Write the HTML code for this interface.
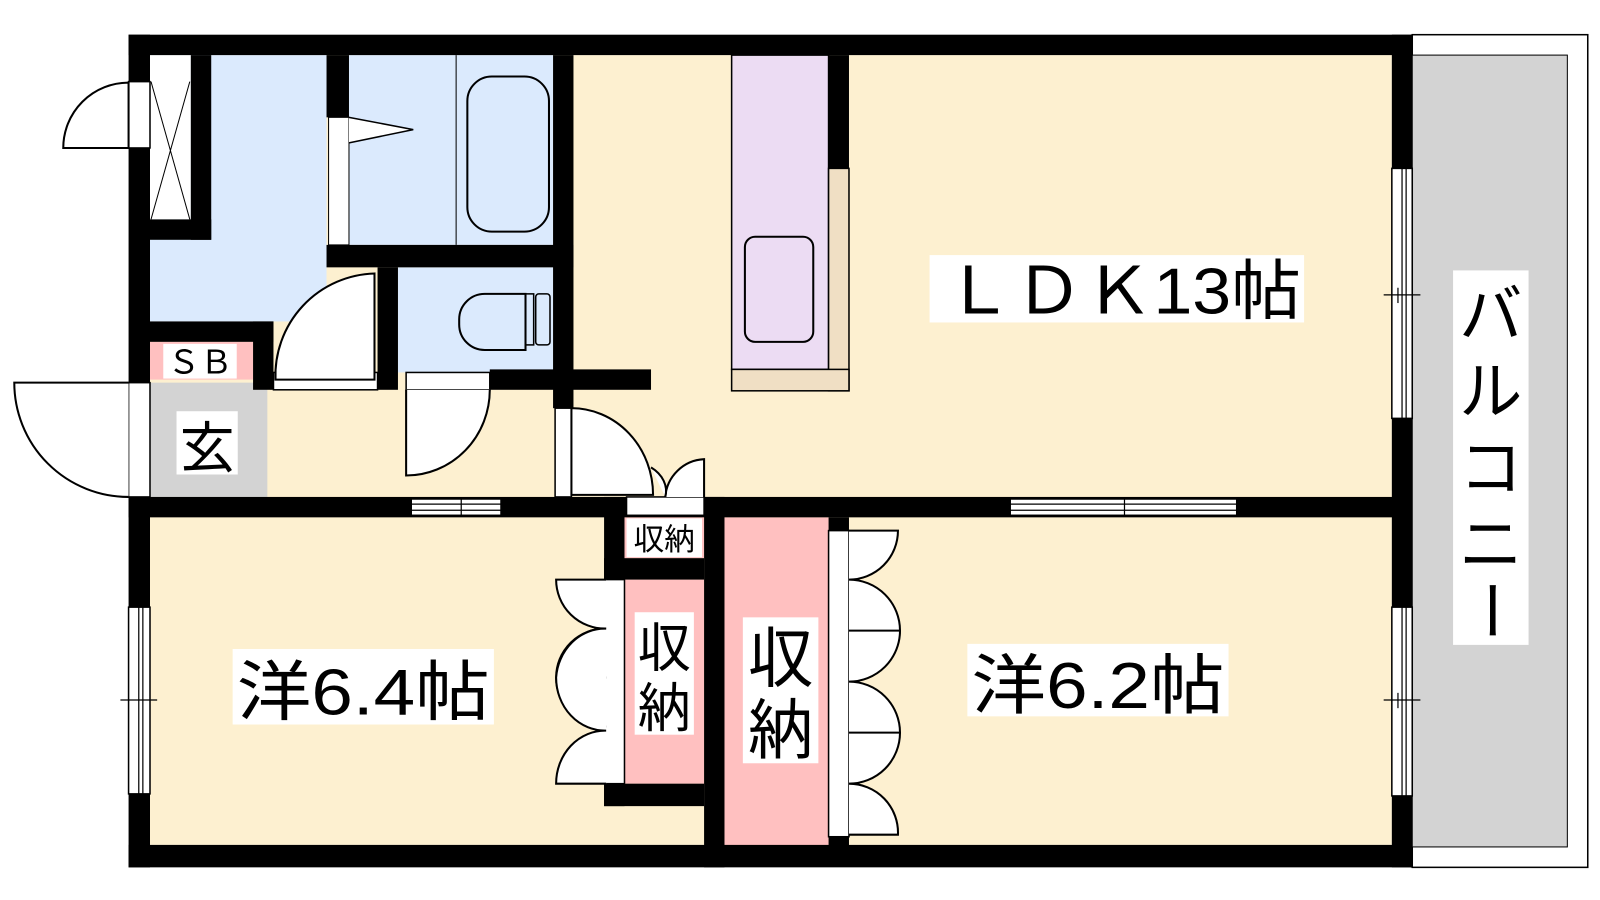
<!DOCTYPE html>
<html><head><meta charset="utf-8"><style>html,body{margin:0;padding:0;background:#fff}svg{display:block}
text{font-family:"Liberation Sans","Noto Sans CJK JP",sans-serif;fill:#000}</style></head><body>
<svg width="1600" height="900" viewBox="0 0 1568 882" xmlns="http://www.w3.org/2000/svg">
<rect x="1384" y="34" width="172" height="816" fill="#fff" stroke="#000" stroke-width="1.5"/>
<rect x="1384" y="54" width="152" height="776" fill="#d3d3d3" stroke="#000" stroke-width="1"/>
<rect x="1424" y="265" width="74" height="367" fill="#fff"/>
<text x="1461" y="330" font-size="62" text-anchor="middle">バ</text>
<text x="1461" y="405" font-size="62" text-anchor="middle">ル</text>
<text x="1461" y="480" font-size="62" text-anchor="middle">コ</text>
<text x="1461" y="555" font-size="62" text-anchor="middle">ニ</text>
<text x="0" y="0" font-size="62" text-anchor="middle" transform="translate(1439,598) rotate(90)">ー</text>
<rect x="147" y="54" width="1217" height="774" fill="#fdf0d0"/>
<rect x="147" y="54" width="173" height="261" fill="#dbeafd"/>
<rect x="342" y="54" width="200" height="186" fill="#dbeafd"/>
<rect x="390" y="262" width="152" height="103" fill="#dbeafd"/>
<rect x="147" y="375" width="115" height="112" fill="#d3d3d3"/>
<rect x="147" y="335" width="101" height="37" fill="#ffc0c0"/>
<rect x="160" y="337" width="72" height="34" fill="#fff"/>
<text x="196" y="366" font-size="32" text-anchor="middle">ＳＢ</text>
<rect x="147" y="54" width="40" height="161" fill="#fff"/>
<path d="M148 80 L186 215 M186 80 L148 215" stroke="#000" stroke-width="1"/>
<line x1="447" y1="54" x2="447" y2="240" stroke="#000" stroke-width="1"/>
<rect x="458" y="75" width="80" height="152" rx="24" fill="none" stroke="#000" stroke-width="2"/>
<rect x="322" y="115" width="20" height="125" fill="#fff" stroke="#000" stroke-width="1"/>
<path d="M342 115 L405 127 L342 140" fill="#fff" stroke="#000" stroke-width="1.5"/>
<path d="M450 313 a25 25 0 0 1 25 -25 h40 v55 h-40 a25 25 0 0 1 -25 -25z" fill="none" stroke="#000" stroke-width="2"/>
<rect x="515" y="288" width="8" height="50" fill="none" stroke="#000" stroke-width="1.5"/>
<rect x="525" y="288" width="14" height="50" rx="3" fill="none" stroke="#000" stroke-width="1.5"/>
<rect x="717" y="54" width="95" height="308" fill="#ecdcf3" stroke="#000" stroke-width="1.5"/>
<rect x="812" y="165" width="20" height="218" fill="#f0dfc4" stroke="#000" stroke-width="1.5"/>
<rect x="717" y="362" width="115" height="21" fill="#f0dfc4" stroke="#000" stroke-width="1.5"/>
<rect x="730" y="232" width="67" height="103" rx="10" fill="none" stroke="#000" stroke-width="2"/>
<rect x="612" y="507" width="78" height="40" fill="#ffc0c0"/>
<rect x="612" y="568" width="78" height="200" fill="#ffc0c0"/>
<rect x="710" y="507" width="102" height="323" fill="#ffc0c0"/>
<g fill="#000">
<rect x="126" y="34" width="1258" height="20"/>
<rect x="126" y="828" width="1258" height="22"/>
<rect x="126" y="34" width="21" height="816"/>
<rect x="1364" y="34" width="20" height="816"/>
<rect x="187" y="54" width="20" height="181"/>
<rect x="147" y="215" width="60" height="20"/>
<rect x="320" y="54" width="22" height="61"/>
<rect x="320" y="240" width="242" height="22"/>
<rect x="542" y="54" width="20" height="346"/>
<rect x="370" y="262" width="20" height="120"/>
<rect x="480" y="362" width="158" height="20"/>
<rect x="147" y="315" width="121" height="20"/>
<rect x="248" y="315" width="20" height="67"/>
<rect x="812" y="54" width="20" height="111"/>
<rect x="126" y="487" width="1258" height="20"/>
<rect x="592" y="487" width="20" height="303"/>
<rect x="592" y="547" width="98" height="21"/>
<rect x="592" y="768" width="98" height="22"/>
<rect x="690" y="487" width="20" height="363"/>
<rect x="812" y="507" width="20" height="323"/>
</g>
<g fill="#fff" stroke="#000" stroke-width="1.5">
<rect x="1364" y="165" width="20" height="245"/>
<rect x="1364" y="595" width="20" height="185"/>
<rect x="126" y="595" width="21" height="183"/>
<rect x="403" y="489" width="88" height="16"/>
<rect x="990" y="489" width="222" height="16"/>
<rect x="126" y="80" width="21" height="65"/>
<rect x="126" y="375" width="21" height="112"/>
<rect x="268" y="365" width="102" height="17"/>
<rect x="398" y="365" width="82" height="17"/>
<rect x="544" y="400" width="16" height="87"/>
<rect x="614" y="487" width="76" height="18"/>
<rect x="593" y="568" width="19" height="200"/>
<rect x="812" y="520" width="20" height="300"/>
</g>
<g stroke="#000" stroke-width="1.2" fill="none">
<line x1="1374" y1="165" x2="1374" y2="410"/><line x1="1378" y1="165" x2="1378" y2="410"/>
<line x1="1356" y1="289" x2="1392" y2="289"/><line x1="1370" y1="282" x2="1370" y2="297"/>
<line x1="1374" y1="595" x2="1374" y2="780"/><line x1="1378" y1="595" x2="1378" y2="780"/>
<line x1="1356" y1="686" x2="1392" y2="686"/><line x1="1370" y1="679" x2="1370" y2="694"/>
<line x1="136" y1="595" x2="136" y2="778"/><line x1="140" y1="595" x2="140" y2="778"/>
<line x1="118" y1="686" x2="154" y2="686"/>
<line x1="403" y1="494" x2="491" y2="494"/><line x1="403" y1="500" x2="491" y2="500"/><line x1="452" y1="489" x2="452" y2="505"/>
<line x1="990" y1="494" x2="1212" y2="494"/><line x1="990" y1="500" x2="1212" y2="500"/><line x1="1102" y1="489" x2="1102" y2="505"/>
</g>
<g fill="#fff" stroke="#000" stroke-width="2">
<path d="M126 145 L62 145 A64 64 0 0 1 126 81 Z"/>
<path d="M126 375 L14 375 A112 112 0 0 0 126 487"/>
<path d="M367 268 L367 372 L270 372 A100 100 0 0 1 367 268 Z"/>
<path d="M398 382 L398 466 A82 84 0 0 0 480 382"/>
<path d="M560 400 A80 85 0 0 1 640 485 L560 485 Z"/>
<path d="M652 487 A40 40 0 0 1 690 450 L690 487"/>
<path d="M652 487 A40 30 0 0 0 638 458"/>
<path d="M594 568 L545 568 A48 48 0 0 0 594 616 A48 48 0 0 0 545 664 A48 48 0 0 0 594 712"/>
<path d="M545 664 L594 664"/>
<path d="M594 616 A48 52 0 0 0 545 664 A48 52 0 0 0 594 716 A48 52 0 0 0 545 768 L594 768"/>
<path d="M832 520 L880 520 A48 48 0 0 1 832 568 A50 50 0 0 1 882 618 A50 50 0 0 1 832 668 A50 50 0 0 1 882 718 A50 50 0 0 1 832 768 A48 48 0 0 1 880 818 L832 818"/>
<path d="M832 618 L882 618 M832 718 L882 718"/>
</g>
<rect x="173" y="403" width="60" height="62" fill="#fff"/>
<text x="203" y="458" font-size="54" text-anchor="middle">玄</text>
<rect x="614" y="508" width="74" height="38" fill="#fff"/>
<text x="651" y="539" font-size="30" text-anchor="middle">収納</text>
<rect x="622" y="600" width="58" height="120" fill="#fff"/>
<text x="651" y="653" font-size="52" text-anchor="middle">収</text>
<text x="651" y="712" font-size="52" text-anchor="middle">納</text>
<rect x="728" y="605" width="74" height="143" fill="#fff"/>
<text x="765" y="668" font-size="64" text-anchor="middle">収</text>
<text x="765" y="738" font-size="64" text-anchor="middle">納</text>
<rect x="911" y="250" width="367" height="66" fill="#fff"/>
<text x="925" y="307" font-size="64" textLength="350" lengthAdjust="spacingAndGlyphs">ＬＤＫ13帖</text>
<rect x="228" y="636" width="256" height="74" fill="#fff"/>
<text x="232" y="700" font-size="64" textLength="248" lengthAdjust="spacingAndGlyphs">洋6.4帖</text>
<rect x="948" y="631" width="256" height="71" fill="#fff"/>
<text x="952" y="694" font-size="64" textLength="248" lengthAdjust="spacingAndGlyphs">洋6.2帖</text>
</svg>
</body></html>
